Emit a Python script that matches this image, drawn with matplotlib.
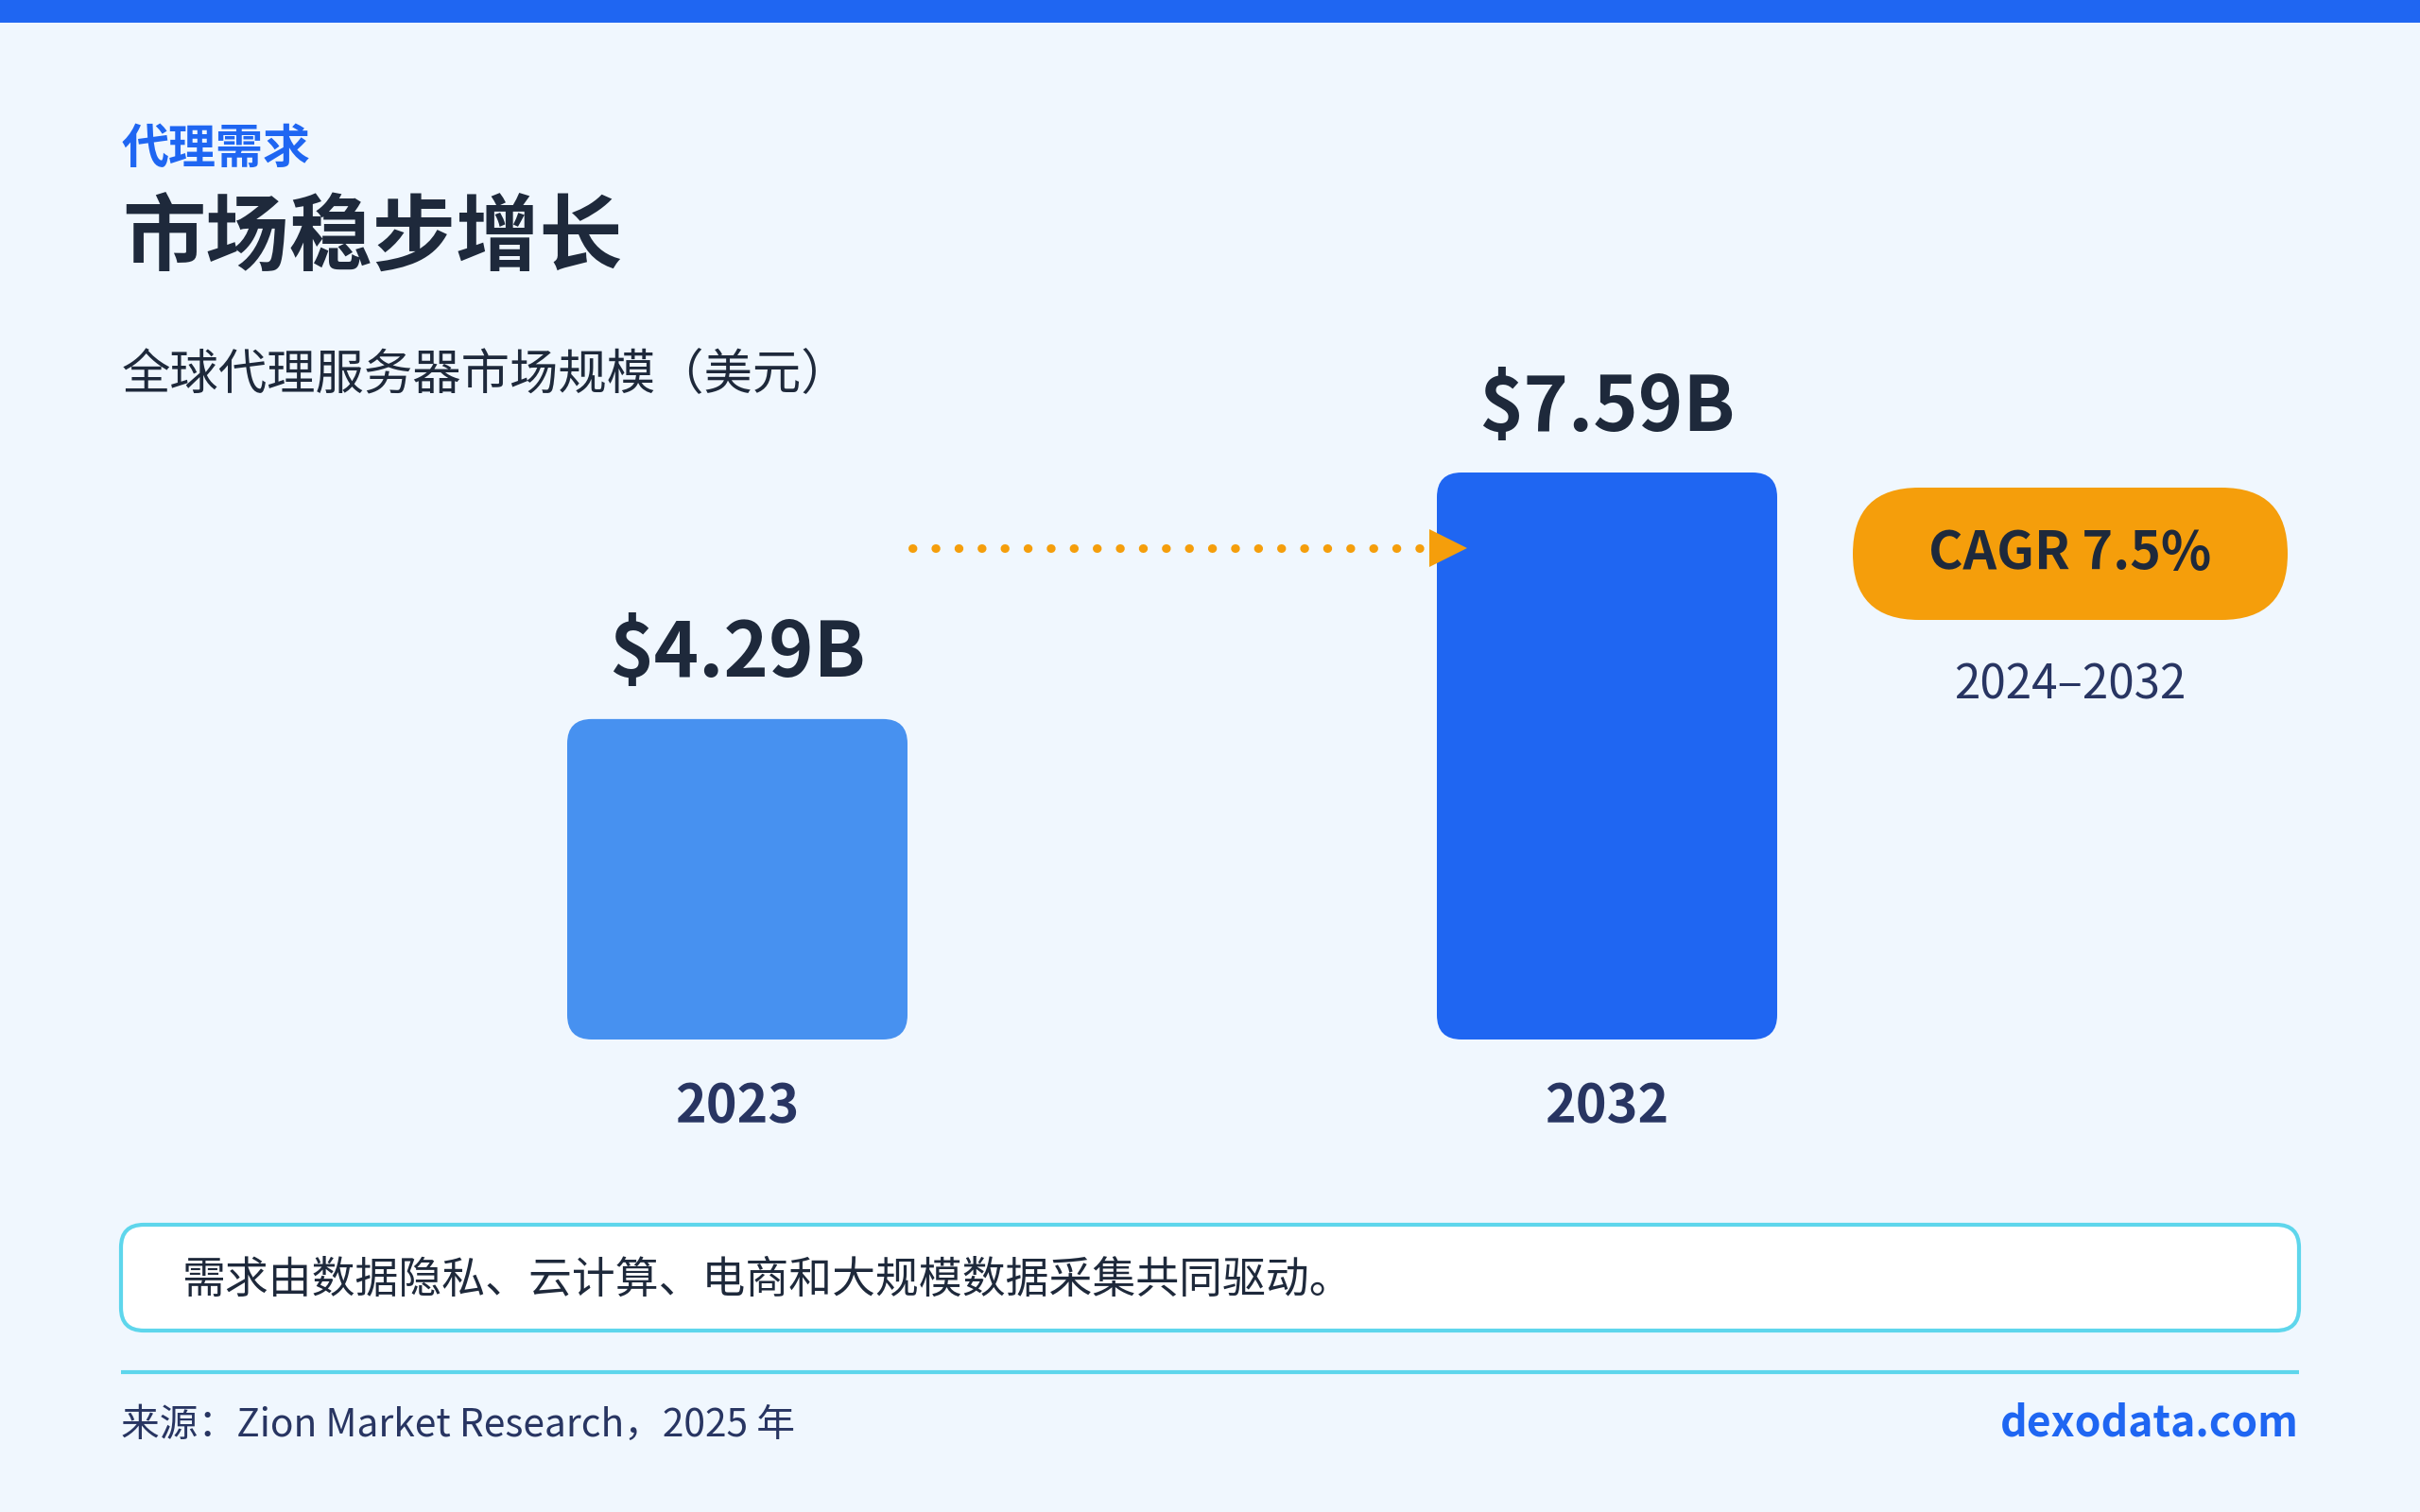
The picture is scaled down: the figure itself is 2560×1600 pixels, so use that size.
import matplotlib
matplotlib.use('Agg')
import matplotlib.pyplot as plt
from matplotlib.patches import FancyBboxPatch, Rectangle

plt.rcParams['font.family'] = ['Noto Sans CJK SC', 'DejaVu Sans']

# data
years = ['2023', '2032']
values = [4.29, 7.59]
value_labels = ['$4.29B', '$7.59B']
cagr_text = 'CAGR 7.5%'
cagr_period = '2024–2032'

kicker = '代理需求'
title = '市场稳步增长'
subtitle = '全球代理服务器市场规模（美元）'
note = '需求由数据隐私、云计算、电商和大规模数据采集共同驱动。'
source = '来源：Zion Market Research，2025 年'
brand = 'dexodata.com'

# colours
BG = '#F0F7FE'
BLUE = '#1F66F2'
LIGHT_BLUE = '#4791F0'
AMBER = '#F59E0B'
CYAN = '#5ED6EC'
DARK = '#1E293B'
NAVY = '#283562'

W, H = 2560, 1600
fig = plt.figure(figsize=(W / 100, H / 100), dpi=100, facecolor=BG)

# background layer in pixel coordinates (y grows downwards)
bg = fig.add_axes([0, 0, 1, 1])
bg.set_xlim(0, W)
bg.set_ylim(H, 0)
bg.axis('off')
bg.set_facecolor(BG)

bg.add_patch(Rectangle((0, 0), W, 24, color=BLUE, lw=0))

bg.text(129, 158, kicker, fontsize=36, fontweight='bold', color=BLUE, va='center', ha='left')
bg.text(129, 254, title, fontsize=63.5, fontweight='bold', color=DARK, va='center', ha='left')
bg.text(129, 397, subtitle, fontsize=37, fontweight='medium', color=DARK, va='center', ha='left')

# CAGR pill
bg.add_patch(FancyBboxPatch((1960, 516), 460, 140, boxstyle='round,pad=0,rounding_size=70',
                            fc=AMBER, ec='none'))
bg.text(2190, 586, cagr_text, fontsize=40, fontweight='bold', color=DARK, ha='center', va='center')
bg.text(2190, 726, cagr_period, fontsize=35.5, color=NAVY, ha='center', va='center')

# note box
bg.add_patch(FancyBboxPatch((128, 1296), 2304, 112, boxstyle='round,pad=0,rounding_size=24',
                            fc='white', ec=CYAN, lw=3))
bg.text(192, 1355, note, fontsize=33, color=DARK, ha='left', va='center')

# divider and footer
bg.plot([128, 2432], [1452, 1452], color=CYAN, lw=3, solid_capstyle='butt')
bg.text(128, 1508, source, fontsize=29.3, color=NAVY, ha='left', va='center')
bg.text(2432, 1506, brand, fontsize=32, fontweight='bold', color=BLUE, ha='right', va='center')

# bar chart
ax = fig.add_axes([320 / W, 500 / H, 1840 / W, 600 / H])
ax.set_xlim(-0.5, 1.5)
ax.set_ylim(0, max(values))
ax.axis('off')
ax.patch.set_alpha(0)

bw = 360 / 920
ppx = 1840 / 2.0
ppy = 600 / max(values)
radius = 26
colors = [LIGHT_BLUE, BLUE]
for i, v in enumerate(values):
    ax.add_patch(FancyBboxPatch((i - bw / 2, 0), bw, v,
                                boxstyle=f'round,pad=0,rounding_size={radius / ppx}',
                                mutation_aspect=ppx / ppy, fc=colors[i], ec='none',
                                clip_on=False))
    ax.annotate(value_labels[i], (i, v), xytext=(0, 32), textcoords='offset points',
                ha='center', va='baseline', fontsize=58, fontweight='bold', color=DARK,
                annotation_clip=False)
    ax.annotate(years[i], (i, 0), xytext=(0, -63), textcoords='offset points',
                ha='center', va='baseline', fontsize=40, fontweight='bold', color=NAVY,
                annotation_clip=False)

# dotted growth arrow from the first bar to the second
arrow_y = 0.867 * max(values)
ax.plot([bw / 2 + 0.005, 1 - bw / 2 - 0.01], [arrow_y, arrow_y], color=AMBER, lw=6.5,
        linestyle=(0, (0.05, 2.65)), dash_capstyle='round', clip_on=False)
ax.plot([1 - bw / 2 + 0.013], [arrow_y], marker='>', markersize=29, color=AMBER,
        markeredgewidth=0, clip_on=False)

fig.savefig('out.png', dpi=100, facecolor=BG)
